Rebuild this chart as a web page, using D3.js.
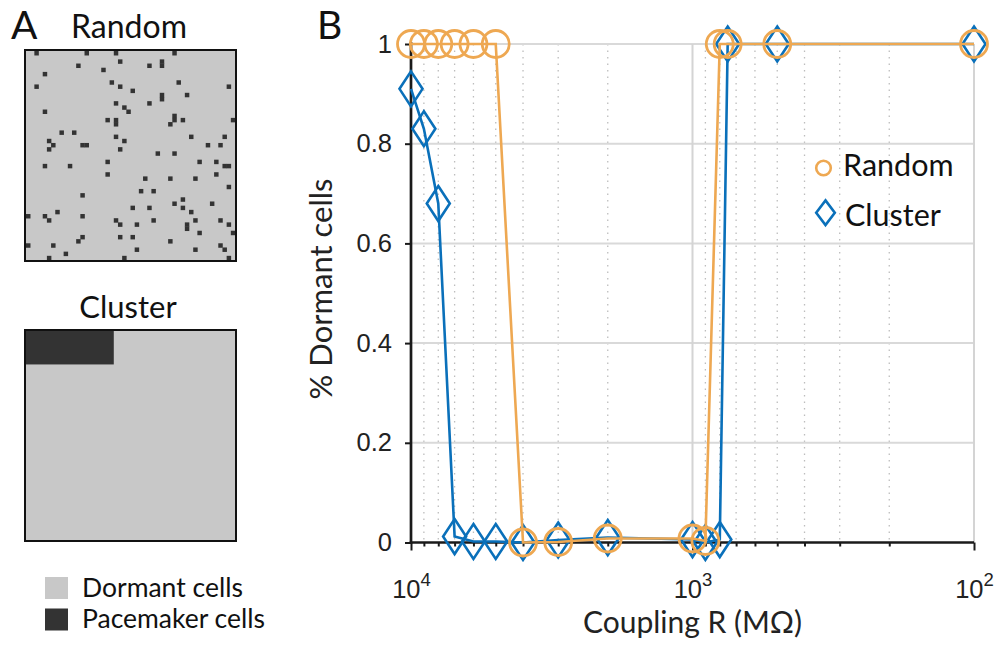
<!DOCTYPE html>
<html>
<head>
<meta charset="utf-8">
<script src="https://cdn.jsdelivr.net/npm/d3@7"></script>
<style>
  html, body { margin: 0; padding: 0; background: #fff; }
  svg { display: block; font-family: Lato, "Open Sans", sans-serif; }
</style>
</head>
<body>
<div id="chart"></div>
<script>
(function() {
  "use strict";

  // ==========================================
  // DATA
  // ==========================================

  // Coupling resistance (MOhm) used in both simulations
  const couplingR = [10000, 9000, 8000, 7000, 6000, 5000, 4000, 3000, 2000, 1000, 900, 800, 750, 500, 100];

  // Fraction of dormant cells for each pacemaker layout
  const randomDormant  = [1, 1, 1, 1, 1, 1, 0, 0.001, 0.008, 0.008, 0.003, 1, 1, 1, 1];
  const clusterDormant = [0.91, 0.83, 0.68, 0.012, 0.002, 0.002, 0, 0.005, 0.01, 0.006, 0, 0.006, 1, 1, 1];

  const yTicks = [0, 0.2, 0.4, 0.6, 0.8, 1];
  const xMajor = [10000, 1000, 100];
  const xMinor = [9000, 8000, 7000, 6000, 5000, 4000, 3000, 2000, 900, 800, 700, 600, 500, 400, 300, 200];

  // 50x50 tissue, pacemaker positions as [col, row]
  const GRID_N = 50;
  const randomPacemakers = [
    [2,0],[14,0],[21,0],[35,0],[22,2],[32,2],[32,3],[12,3],[29,3],[18,4],[4,5],
    [20,7],[36,7],[2,8],[22,8],[48,8],[25,9],[32,10],[38,10],[32,11],[21,12],[29,12],
    [23,13],[4,14],[24,14],[35,15],[19,16],[21,16],[35,16],[37,16],[49,16],[21,17],[34,17],
    [8,19],[11,19],[21,20],[39,20],[47,20],[5,21],[23,21],[6,22],[13,22],[14,22],[43,22],[46,22],
    [5,23],[22,23],[31,24],[35,24],[19,26],[41,26],[45,26],[4,27],[10,27],[47,27],[48,27],
    [19,29],[45,29],[28,30],[34,30],[40,30],[48,32],[27,33],[30,33],[13,34],[37,35],
    [35,36],[44,36],[25,37],[29,37],[37,37],[7,38],[39,38],[0,39],[4,39],[13,39],
    [5,40],[21,40],[30,40],[40,40],[46,40],[22,41],[26,41],[38,41],[48,41],[38,42],
    [41,43],[49,43],[13,44],[22,44],[25,44],[12,45],[34,45],[0,46],[6,46],[46,46],
    [26,47],[40,47],[47,47],[9,48],[5,49],[23,49],[48,49]
  ];
  // cluster block: columns 0-20, rows 0-7 (inclusive)
  const clusterBlock = { cols: [0, 20], rows: [0, 7] };

  const ORANGE = "#EEA852";
  const BLUE = "#0A70BA";
  const DORMANT = "#C8C8C8";
  const PACEMAKER = "#333333";

  const svg = d3.select("#chart").append("svg")
    .attr("width", 995)
    .attr("height", 648);

  // ==========================================
  // PANEL A: tissue layouts
  // ==========================================

  const cellX = d3.scaleBand().domain(d3.range(GRID_N)).range([26, 235]);

  function drawTissue(top, cells, block) {
    const cellY = d3.scaleBand().domain(d3.range(GRID_N)).range([top + 1, top + 210]);
    const g = svg.append("g");
    g.append("rect")
      .attr("x", 26).attr("y", top + 1)
      .attr("width", 209).attr("height", 209)
      .attr("fill", DORMANT);
    g.selectAll("rect.cell")
      .data(cells)
      .join("rect")
      .attr("class", "cell")
      .attr("x", d => cellX(d[0]))
      .attr("y", d => cellY(d[1]))
      .attr("width", cellX.bandwidth() + 0.3)
      .attr("height", cellY.bandwidth() + 0.3)
      .attr("fill", PACEMAKER);
    // a contiguous block is filled as one piece so no seams show
    if (block) {
      g.append("rect")
        .attr("x", cellX(block.cols[0]))
        .attr("y", cellY(block.rows[0]))
        .attr("width", cellX(block.cols[1]) + cellX.bandwidth() - cellX(block.cols[0]))
        .attr("height", cellY(block.rows[1]) + cellY.bandwidth() - cellY(block.rows[0]))
        .attr("fill", PACEMAKER);
    }
    g.append("rect")
      .attr("x", 25).attr("y", top)
      .attr("width", 211).attr("height", 211)
      .attr("fill", "none")
      .attr("stroke", "#111")
      .attr("stroke-width", 2);
  }

  drawTissue(50, randomPacemakers, null);
  drawTissue(330, [], clusterBlock);

  svg.append("text").attr("x", 11).attr("y", 38.5)
    .attr("font-size", 39).attr("fill", "#111").text("A");
  svg.append("text").attr("x", 129).attr("y", 37.5)
    .attr("text-anchor", "middle").attr("font-size", 32).attr("fill", "#111").text("Random");
  svg.append("text").attr("x", 128).attr("y", 317.5)
    .attr("text-anchor", "middle").attr("font-size", 31).attr("fill", "#111").text("Cluster");

  // cell-type legend
  const cellLegend = [
    { label: "Dormant cells", color: DORMANT },
    { label: "Pacemaker cells", color: PACEMAKER }
  ];
  const legA = svg.append("g").selectAll("g")
    .data(cellLegend)
    .join("g")
    .attr("transform", (d, i) => `translate(45,${577 + i * 31.5})`);
  legA.append("rect").attr("width", 23).attr("height", 22).attr("fill", d => d.color);
  legA.append("text").attr("x", 37).attr("y", 19.5)
    .attr("font-size", 26.5).attr("fill", "#111").text(d => d.label);

  // ==========================================
  // PANEL B: dormant fraction vs coupling
  // ==========================================

  const x = d3.scaleLog().domain([10000, 100]).range([411, 974]);
  const y = d3.scaleLinear().domain([0, 1]).range([542.5, 44]);

  svg.append("text").attr("x", 317).attr("y", 38.5)
    .attr("font-size", 39).attr("fill", "#111").text("B");

  const grid = svg.append("g");
  grid.selectAll("line.minor")
    .data(xMinor)
    .join("line")
    .attr("class", "minor")
    .attr("x1", d => x(d)).attr("x2", d => x(d))
    .attr("y1", y(1)).attr("y2", y(0))
    .attr("stroke", "#BDBDBD")
    .attr("stroke-width", 1.3)
    .attr("stroke-dasharray", "1.5,5");
  grid.selectAll("line.hgrid")
    .data(yTicks.filter(d => d > 0))
    .join("line")
    .attr("class", "hgrid")
    .attr("x1", x(10000)).attr("x2", x(100))
    .attr("y1", d => y(d)).attr("y2", d => y(d))
    .attr("stroke", "#D9D9D9")
    .attr("stroke-width", 2);
  grid.selectAll("line.vgrid")
    .data(xMajor.slice(1))
    .join("line")
    .attr("class", "vgrid")
    .attr("x1", d => x(d)).attr("x2", d => x(d))
    .attr("y1", y(1)).attr("y2", y(0))
    .attr("stroke", "#D4D4D4")
    .attr("stroke-width", 2);

  // axes
  const yAxis = svg.append("g")
    .attr("transform", `translate(${x(10000)},0)`)
    .call(d3.axisLeft(y).tickValues(yTicks).tickSize(6).tickPadding(13)
      .tickFormat(d => d === 0 || d === 1 ? d3.format("d")(d) : d3.format(".1f")(d)));

  const xMinorAxis = svg.append("g")
    .attr("transform", `translate(0,${y(0)})`)
    .call(d3.axisBottom(x).tickValues(xMinor).tickSize(4).tickFormat(""));

  const xAxis = svg.append("g")
    .attr("transform", `translate(0,${y(0)})`)
    .call(d3.axisBottom(x).tickValues(xMajor).tickSize(8).tickPadding(20)
      .tickFormat(d => String(Math.round(Math.log10(d)))));

  [yAxis, xMinorAxis, xAxis].forEach(a => {
    a.select(".domain").attr("stroke", "#1a1a1a").attr("stroke-width", 2.7);
    a.selectAll(".tick line").attr("stroke", "#1a1a1a").attr("stroke-width", 2);
    a.selectAll(".tick text").attr("fill", "#222").attr("font-size", 25.5).attr("font-family", null);
  });
  yAxis.select(".domain").attr("d", `M0,${y(1) - 2}V${y(0) + 1.3}`);
  xMinorAxis.select(".domain").remove();
  xAxis.select(".domain").attr("d", `M${x(10000) - 1.3},0H${x(100)}`);

  // powers of ten: "10" with raised exponent
  xAxis.selectAll(".tick text").each(function() {
    const t = d3.select(this);
    const p = t.text();
    t.text(null).attr("dy", null).attr("y", 55);
    t.append("tspan").text("10");
    t.append("tspan").attr("dy", -12).attr("font-size", 18.5).text(p);
  });

  svg.append("text")
    .attr("transform", `translate(332,289) rotate(-90)`)
    .attr("text-anchor", "middle").attr("font-size", 31).attr("fill", "#222")
    .text("% Dormant cells");
  svg.append("text")
    .attr("x", x(1000)).attr("y", 633)
    .attr("text-anchor", "middle").attr("font-size", 30).attr("fill", "#222")
    .text("Coupling R (M\u03A9)");

  // series
  const line = d3.line().x(d => x(d.r)).y(d => y(d.v));
  const diamond = (w, h) => `M0,${-h}L${w},0L0,${h}L${-w},0Z`;

  const clusterPts = couplingR.map((r, i) => ({ r, v: clusterDormant[i] }));
  const randomPts = couplingR.map((r, i) => ({ r, v: randomDormant[i] }));

  const gCluster = svg.append("g");
  gCluster.append("path")
    .attr("d", line(clusterPts))
    .attr("fill", "none").attr("stroke", BLUE).attr("stroke-width", 2.6);
  gCluster.selectAll("path.mk")
    .data(clusterPts)
    .join("path")
    .attr("class", "mk")
    .attr("transform", d => `translate(${x(d.r)},${y(d.v)})`)
    .attr("d", diamond(11.5, 17.5))
    .attr("fill", "none").attr("stroke", BLUE).attr("stroke-width", 2.6);

  const gRandom = svg.append("g");
  gRandom.append("path")
    .attr("d", line(randomPts))
    .attr("fill", "none").attr("stroke", ORANGE).attr("stroke-width", 2.6);
  gRandom.selectAll("circle")
    .data(randomPts)
    .join("circle")
    .attr("cx", d => x(d.r)).attr("cy", d => y(d.v))
    .attr("r", 13.5)
    .attr("fill", "none").attr("stroke", ORANGE).attr("stroke-width", 2.8);

  // legend
  const legB = svg.append("g");
  legB.append("circle").attr("cx", 823.5).attr("cy", 168).attr("r", 7.3)
    .attr("fill", "none").attr("stroke", ORANGE).attr("stroke-width", 2.6);
  legB.append("path").attr("transform", "translate(825.5,212.7)")
    .attr("d", diamond(9.3, 12.3))
    .attr("fill", "none").attr("stroke", BLUE).attr("stroke-width", 2.6);
  legB.append("text").attr("x", 843).attr("y", 176)
    .attr("font-size", 30.5).attr("fill", "#111").text("Random");
  legB.append("text").attr("x", 845).attr("y", 226)
    .attr("font-size", 30.5).attr("fill", "#111").text("Cluster");
})();
</script>
</body>
</html>
